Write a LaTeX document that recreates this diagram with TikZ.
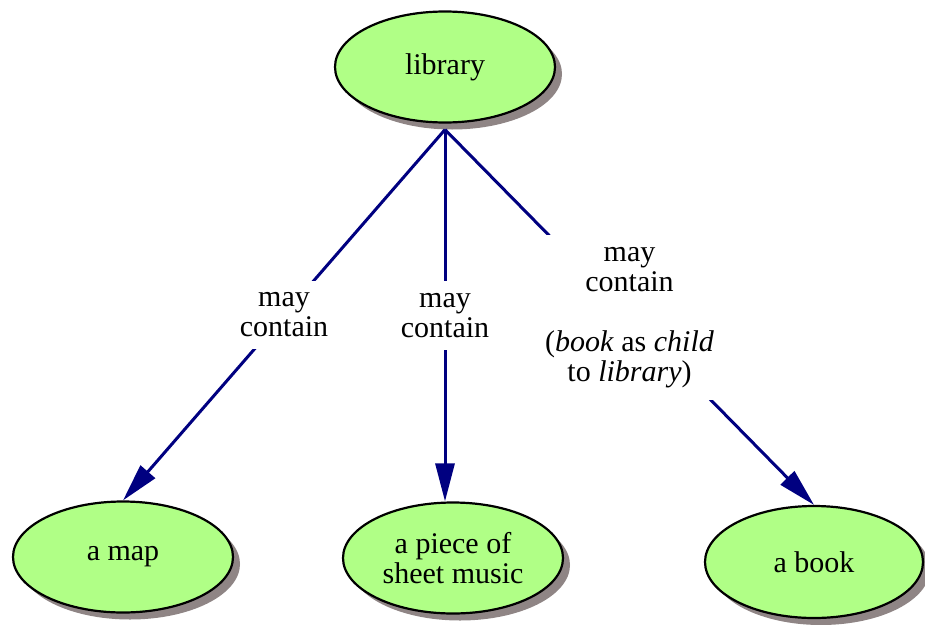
\documentclass[tikz,border=0pt]{standalone}
\usepackage{fontspec}
\setmainfont{Liberation Serif}
\usetikzlibrary{shapes.geometric,shadows,arrows.meta}
\definecolor{leaf}{RGB}{176,255,134}
\definecolor{shade}{RGB}{143,133,133}
\definecolor{ink}{RGB}{0,0,128}
\begin{document}
\begin{tikzpicture}[x=1pt,y=-1pt,font=\fontsize{30}{30}\selectfont,
    topic/.style={ellipse,draw,line width=2.2pt,fill=leaf,align=center,inner sep=0pt,minimum width=220pt,minimum height=111pt,
        drop shadow={shadow xshift=7pt,shadow yshift=-7pt,fill=shade,opacity=1}},
    link/.style={ink,line width=3pt,-{Triangle[length=38pt,width=19pt]}},
    tag/.style={fill=white,text=black,align=center,inner xsep=2pt,inner ysep=12pt}]
        \useasboundingbox(0,0)rectangle(925,624);
        \node[topic](lib)at(445,67){library};
        \node[topic](map)at(123,557){a map};
        \node[topic](sheet)at(453,558){a piece of\\sheet music};
        \node[topic,minimum width=218pt,minimum height=112pt](book)at(814,562){a book};
        \coordinate(hub)at([yshift=-6pt]lib.south);

        \draw[link](hub)--(map.north) node[midway,tag]{may\\contain};
        \draw[link](hub)--(hub|-sheet.north) node[midway,tag]{may\\contain};
        \draw[link](hub)--(book.north) node[midway,tag]{may\\contain\\[30pt](\textit{book} as \textit{child}\\to \textit{library})};
    \end{tikzpicture}
\end{document}
